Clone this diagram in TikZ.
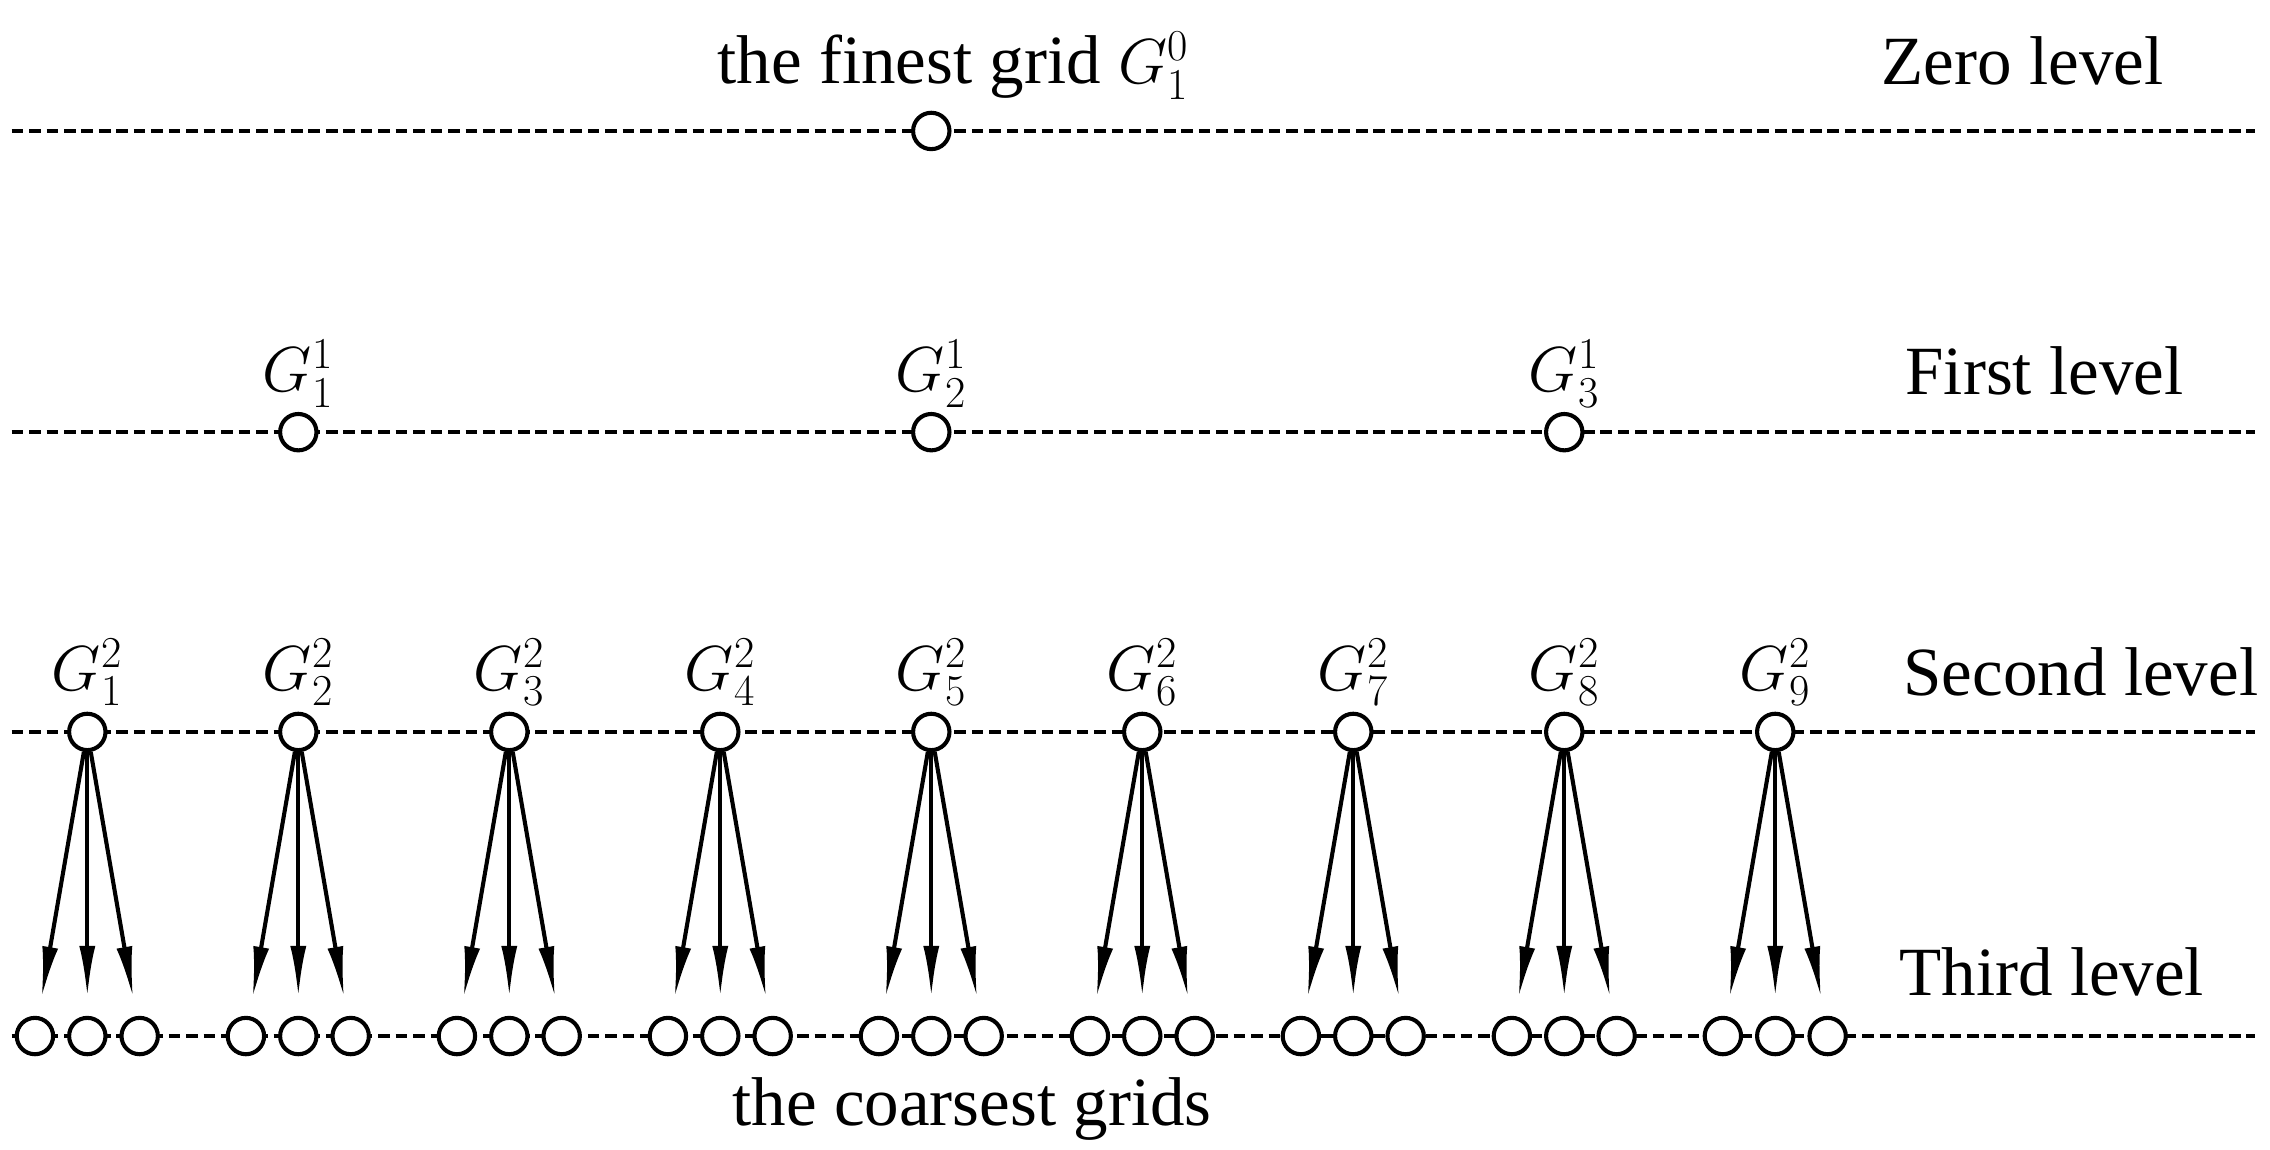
\documentclass[tikz,border=0pt]{standalone}
\usepackage{fontspec}
\setmainfont{Liberation Serif}
\usetikzlibrary{arrows.meta}
\begin{document}
\begin{tikzpicture}[x=0.02cm,y=-0.02cm,
  grid/.style={circle,draw,fill=white,line width=1.6pt,minimum size=0.5cm,inner sep=0pt},
  lvl/.style={line width=1.5pt,dash pattern=on 0.16cm off 0.08cm},
  lab/.style={font=\fontsize{27}{31}\selectfont},
  arr/.style={-{Latex[length=0.7cm,width=0.22cm]},line width=1.6pt,shorten >=0.26cm}]
\useasboundingbox (0,0) rectangle (1560,790);
\coordinate (z0) at (8,90);   \coordinate (z1) at (1550,90);
\coordinate (f0) at (8,297);  \coordinate (f1) at (1550,297);
\coordinate (s0) at (8,503);  \coordinate (s1) at (1550,503);
\coordinate (t0) at (8,712);  \coordinate (t1) at (1550,712);
\draw[lvl] (z0) -- (z1);
\draw[lvl] (f0) -- (f1);
\draw[lvl] (s0) -- (s1);
\draw[lvl] (t0) -- (t1);
\node[grid] (g0) at (640,90) {};
\node[lab] at (655,45) {the finest grid $G_1^0$};
\node[lab] at (1390,42) {Zero level};
\foreach \i/\x in {1/205,2/640,3/1075}{
  \node[grid] (f\i) at (\x,297) {};
  \node[lab] at (\x,257) {$G_{\i}^1$};
}
\node[lab] at (1405,255) {First level};
\foreach \i in {1,...,9}{
  \pgfmathsetmacro{\x}{60+145*(\i-1)}
  \node[grid] (s\i) at (\x,503) {};
  \node[lab] at (\x,462) {$G_{\i}^2$};
  \node[grid] (c\i a) at (\x-36,712) {};
  \node[grid] (c\i b) at (\x,712) {};
  \node[grid] (c\i c) at (\x+36,712) {};
  \draw[arr] (s\i) -- (c\i a);
  \draw[arr] (s\i) -- (c\i b);
  \draw[arr] (s\i) -- (c\i c);
}
\node[lab] at (1430,462) {Second level};
\node[lab] at (1410,668) {Third level};
\node[lab] at (668,762) {the coarsest grids};
\end{tikzpicture}
\end{document}
